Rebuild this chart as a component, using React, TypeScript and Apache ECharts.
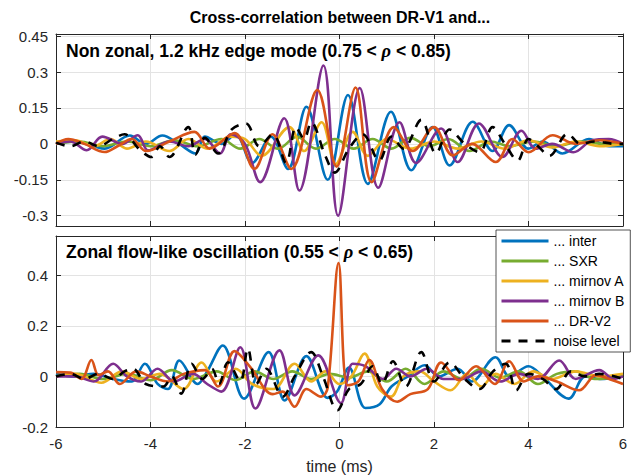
import React, { useEffect, useRef } from 'react';
import * as echarts from 'echarts';

// ---------- data ----------
const xTicks = [-6, -4, -2, 0, 2, 4, 6];
const topYTicks = [-0.3, -0.15, 0, 0.15, 0.3, 0.45];
const botYTicks = [-0.2, 0, 0.2, 0.4];
const seriesNames = ['... inter', '... SXR', '... mirnov A', '... mirnov B', '... DR-V2', 'noise level'];
const seriesColors = ['#0072BD', '#77AC30', '#EDB120', '#7E2F8E', '#D95319', '#000000'];

const titleText = 'Cross-correlation between DR-V1 and...';
const topNote = ['Non zonal, 1.2 kHz edge mode (0.75 < ', 'ρ', ' < 0.85)'];
const botNote = ['Zonal flow-like oscillation (0.55 < ', 'ρ', ' < 0.65)'];
const xLabel = 'time (ms)';

// Top panel: non zonal edge mode
const topInter = [[-6,0],[-5.6,0.01],[-5.2,-0.01],[-4.97,-0.02],[-4.44,0.035],[-4.1,0.0],[-3.75,0.035],[-3.4,0.0],[-3.05,-0.04],[-2.85,0.03],[-2.5,0.0],[-2.2,0.04],[-1.85,-0.08],[-1.45,0.03],[-1.09,-0.105],[-0.7,0.155],[-0.25,-0.15],[0.18,0.204],[0.6,-0.167],[1.09,0.134],[1.52,-0.11],[1.97,0.07],[2.33,-0.09],[2.82,0.092],[3.24,-0.03],[3.59,0.078],[4.0,-0.02],[4.3,0.01],[4.72,-0.04],[5.28,0.02],[5.71,-0.01],[6,-0.01]];
const topSXR = [[-6,0],[-5.5,0.01],[-5,-0.01],[-4.5,0.01],[-4,-0.01],[-3.5,0.015],[-3,-0.01],[-2.5,0.02],[-2.1,-0.02],[-1.7,0.02],[-1.3,-0.02],[-0.9,0.03],[-0.5,-0.02],[-0.1,0.02],[0.3,-0.02],[0.7,0.02],[1.1,-0.02],[1.5,0.025],[1.9,-0.01],[2.3,0.02],[2.75,-0.03],[3.2,0.01],[3.6,-0.01],[4.1,0.01],[4.6,-0.01],[5.1,0.01],[5.6,0],[6,0]];
const topMirnovA = [[-6,0.01],[-5.6,0.015],[-5.2,-0.01],[-4.85,0.02],[-4.5,-0.02],[-4.1,0.01],[-3.6,-0.03],[-3.2,0.02],[-2.8,-0.02],[-2.3,0.03],[-2.0,0.02],[-1.65,-0.05],[-1.06,0.07],[-0.75,-0.03],[-0.38,0.09],[-0.08,-0.085],[0.28,0.05],[0.6,-0.05],[1.0,0.02],[1.5,-0.02],[2.0,0.01],[2.5,-0.02],[3.0,0.01],[3.5,-0.02],[4.0,0.015],[4.5,-0.015],[5.0,0.01],[5.5,-0.01],[6,0.0]];
const topMirnovB = [[-6,0],[-5.7,0.01],[-5.35,-0.027],[-5.02,0.03],[-4.6,0.0],[-4.27,0.036],[-4.05,-0.027],[-3.6,0.01],[-3.2,-0.01],[-2.85,0.02],[-2.53,-0.04],[-2.3,0.04],[-2.0,0.0],[-1.68,-0.16],[-1.17,0.107],[-0.85,-0.195],[-0.34,0.327],[-0.03,-0.3],[0.43,0.233],[0.82,-0.183],[1.27,0.09],[1.62,-0.08],[2.15,0.064],[2.5,-0.076],[2.95,0.085],[3.45,-0.055],[3.85,0.055],[4.15,-0.02],[4.5,0.0],[4.95,-0.035],[5.35,0.015],[5.7,0.02],[6,0.0]];
const topDRV2 = [[-6,0],[-5.74,0.02],[-5.4,0.0],[-4.97,-0.034],[-4.7,-0.01],[-4.4,0.02],[-4.09,-0.03],[-3.6,0.01],[-3.07,0.05],[-2.75,-0.02],[-2.22,0.045],[-1.8,-0.104],[-1.42,0.04],[-1.02,-0.105],[-0.47,0.225],[-0.06,-0.095],[0.34,0.235],[0.68,-0.16],[1.15,0.07],[1.55,-0.03],[2.0,0.07],[2.4,-0.048],[2.8,0.0],[3.31,-0.076],[3.66,0.02],[4.0,-0.035],[4.51,0.036],[5.0,0.0],[5.5,0.015],[6,0]];
const topNoise = [[-6,0.005],[-5.7,-0.01],[-5.4,0.01],[-5.1,-0.01],[-4.8,0.02],[-4.55,0.04],[-4.25,-0.02],[-3.98,-0.055],[-3.8,-0.01],[-3.6,-0.055],[-3.2,0.07],[-3.05,-0.045],[-2.85,0.025],[-2.57,-0.04],[-2.28,0.06],[-1.98,0.085],[-1.7,-0.01],[-1.41,0.04],[-1.13,-0.08],[-0.92,0.07],[-0.75,0.02],[-0.6,0.09],[-0.3,-0.05],[-0.1,-0.12],[0.2,-0.02],[0.49,0.04],[0.84,-0.07],[1.1,0.03],[1.35,-0.02],[1.73,0.1],[2.04,-0.04],[2.33,0.06],[2.65,0.0],[2.96,-0.035],[3.24,0.07],[3.5,0.0],[3.77,-0.07],[4.0,0.02],[4.2,-0.01],[4.44,-0.05],[4.83,0.042],[5.1,0.0],[5.4,0.01],[5.85,0.0],[6,0.0]];

// Bottom panel: zonal flow-like oscillation
const botInter = [[-6,0.01],[-5.6,0.0],[-5.2,0.01],[-4.8,-0.01],[-4.4,-0.02],[-4.12,0.05],[-3.85,-0.03],[-3.63,-0.05],[-3.39,0.063],[-3.0,-0.03],[-2.8,0.02],[-2.47,0.122],[-2.02,-0.088],[-1.5,0.096],[-1.16,-0.095],[-0.7,0.08],[-0.25,-0.085],[-0.05,-0.06],[0.2,0.035],[0.55,-0.125],[0.85,-0.11],[1.1,-0.04],[1.45,0.0],[1.8,0.044],[2.1,0.0],[2.5,0.03],[2.8,-0.02],[3.3,0.076],[3.6,0.0],[4.0,0.04],[4.3,0.0],[4.85,-0.088],[5.2,0.0],[5.5,-0.01],[6,0.0]];
const botSXR = [[-6,0.0],[-5.5,0.01],[-5,-0.01],[-4.5,0.01],[-4,-0.015],[-3.55,0.025],[-3.1,-0.01],[-2.6,0.02],[-2.2,-0.015],[-1.8,0.02],[-1.4,-0.01],[-1.0,0.02],[-0.6,-0.01],[-0.2,0.01],[0.2,-0.005],[0.6,0.02],[1.0,-0.02],[1.4,0.03],[1.8,-0.03],[2.2,0.02],[2.6,-0.01],[3.0,0.03],[3.4,-0.005],[3.8,0.02],[4.2,-0.03],[4.6,0.01],[5.0,0.02],[5.4,-0.01],[6,0.0]];
const botMirnovA = [[-6,0.0],[-5.6,0.01],[-5.04,-0.025],[-4.6,0.02],[-4.2,-0.01],[-3.8,0.01],[-3.3,-0.05],[-2.92,0.055],[-2.6,-0.02],[-2.2,0.03],[-1.85,-0.03],[-1.4,-0.05],[-0.95,0.05],[-0.6,-0.02],[-0.3,0.02],[0.0,-0.03],[0.25,0.0],[0.53,0.09],[0.8,-0.04],[1.09,-0.08],[1.35,0.0],[1.7,0.02],[2.0,-0.02],[2.35,-0.055],[2.7,0.01],[3.0,-0.04],[3.3,0.01],[3.7,-0.03],[4.1,0.02],[4.5,-0.01],[5.0,0.02],[5.5,0.0],[6,0.01]];
const botMirnovB = [[-6,0.0],[-5.6,0.0],[-5.2,-0.02],[-4.79,0.05],[-4.5,0.0],[-4.2,-0.02],[-3.85,0.03],[-3.5,-0.02],[-3.1,0.01],[-2.8,-0.03],[-2.5,-0.06],[-2.1,0.115],[-1.78,-0.127],[-1.27,0.103],[-0.95,-0.075],[-0.45,0.083],[0.03,-0.105],[0.28,0.05],[0.55,0.04],[0.92,-0.01],[1.2,0.03],[1.5,0.0],[1.85,0.03],[2.2,-0.01],[2.6,-0.01],[3.0,0.02],[3.4,-0.02],[3.8,0.01],[4.2,-0.01],[4.65,0.063],[5.0,-0.01],[5.5,0.025],[5.8,-0.01],[6,0.0]];
const botDRV2 = [[-6,0.017],[-5.7,0.015],[-5.46,-0.01],[-5.25,0.065],[-5.1,0.005],[-4.9,0.02],[-4.65,-0.03],[-4.3,0.02],[-4.0,0.0],[-3.63,-0.02],[-3.3,0.01],[-2.85,0.025],[-2.57,-0.04],[-2.22,0.1],[-1.9,0.04],[-1.41,-0.07],[-1.2,-0.06],[-0.95,-0.12],[-0.7,-0.05],[-0.39,-0.08],[-0.25,-0.045],[-0.02,0.448],[0.17,-0.035],[0.4,-0.02],[0.63,0.065],[0.9,-0.05],[1.22,-0.1],[1.5,-0.07],[1.87,-0.05],[2.15,0.055],[2.53,-0.015],[2.89,0.04],[3.29,-0.03],[3.59,0.06],[3.9,-0.02],[4.2,0.0],[4.6,-0.02],[5.07,-0.055],[5.43,0.005],[5.78,-0.015],[6,-0.03]];
const botNoise = [[-6,0.0],[-5.7,0.01],[-5.4,-0.01],[-5.1,0.01],[-4.8,-0.01],[-4.55,0.02],[-4.37,0.03],[-4.1,-0.03],[-3.73,-0.04],[-3.55,0.0],[-3.35,-0.068],[-3.13,0.05],[-2.9,-0.01],[-2.7,0.03],[-2.55,-0.03],[-2.36,0.056],[-2.1,-0.02],[-1.94,0.11],[-1.76,-0.03],[-1.55,0.03],[-1.2,-0.08],[-0.95,0.0],[-0.6,0.096],[-0.35,0.0],[-0.04,-0.134],[0.2,-0.05],[0.45,-0.03],[0.7,0.04],[0.9,-0.03],[1.13,0.06],[1.4,-0.04],[1.73,0.096],[2.0,-0.02],[2.33,0.055],[2.65,-0.01],[2.96,-0.05],[3.25,0.02],[3.52,0.05],[3.74,-0.055],[4.0,0.01],[4.3,-0.01],[4.58,-0.05],[4.9,0.02],[5.2,0.0],[5.5,0.01],[6,-0.01]];

const topData = [topInter, topSXR, topMirnovA, topMirnovB, topDRV2, topNoise];
const botData = [botInter, botSXR, botMirnovA, botMirnovB, botDRV2, botNoise];

const FONT = 'Liberation Sans, Arial, Helvetica, sans-serif';
const AX = '#262626';
const GRIDC = '#e3e3e3';

function makeX(gridIndex: number, pos: 'top' | 'bottom', labels: boolean, grid: boolean, name?: string) {
  return {
    type: 'value', gridIndex, position: pos, min: xTicks[0], max: xTicks[xTicks.length - 1], interval: 2,
    axisLine: { show: true, onZero: false, lineStyle: { color: AX, width: 1 } },
    axisTick: { show: true, inside: true, length: 5, lineStyle: { color: AX } },
    axisLabel: { show: labels, color: AX, fontSize: 15, fontFamily: FONT, margin: 9 },
    splitLine: { show: grid, lineStyle: { color: GRIDC, width: 1 } },
    name: name || '', nameLocation: 'middle', nameGap: 31,
    nameTextStyle: { color: AX, fontSize: 16, fontFamily: FONT },
  };
}
function makeY(gridIndex: number, pos: 'left' | 'right', min: number, max: number, ticks: number[], labels: boolean, grid: boolean) {
  return {
    type: 'value', gridIndex, position: pos, min, max,
    axisLine: { show: true, onZero: false, lineStyle: { color: AX, width: 1 } },
    axisTick: { show: true, inside: true, length: 5, customValues: ticks, lineStyle: { color: AX } },
    axisLabel: { show: labels, customValues: ticks, color: AX, fontSize: 15, fontFamily: FONT, margin: 8 },
    splitLine: { show: grid, lineStyle: { color: GRIDC, width: 1 } },
  };
}

export default function App() {
  const ref = useRef<HTMLDivElement>(null);
  useEffect(() => {
    if (!ref.current) return;
    const chart = echarts.init(ref.current, undefined, { renderer: 'svg' });
    const series: any[] = [];
    [topData, botData].forEach((panel, p) => {
      panel.forEach((d, i) => {
        const isNoise = i === 5;
        series.push({
          name: seriesNames[i], type: 'line', data: d,
          xAxisIndex: p * 2, yAxisIndex: p * 2,
          symbol: 'none', showSymbol: false, smooth: 0.35, clip: true,
          lineStyle: { color: seriesColors[i], width: 2.6, type: isNoise ? [9, 8] : 'solid' },
          itemStyle: { color: seriesColors[i] },
          z: 2 + i,
        });
      });
    });
    const noteRich = {
      b: { fontFamily: FONT, fontWeight: 'bold', fontSize: 17.5, fill: '#000' },
      i: { fontFamily: 'Liberation Serif, serif', fontStyle: 'italic', fontWeight: 'bold', fontSize: 18.5, fill: '#000' },
    };
    chart.setOption({
      animation: false,
      backgroundColor: '#fff',
      textStyle: { fontFamily: FONT },
      grid: [
        { left: 56, right: 13, top: 34, height: 192 },
        { left: 56, right: 13, top: 236, height: 191 },
      ],
      xAxis: [
        makeX(0, 'bottom', false, true),
        makeX(0, 'top', false, false),
        makeX(1, 'bottom', true, true, xLabel),
        makeX(1, 'top', false, false),
      ],
      yAxis: [
        makeY(0, 'left', -0.343, 0.4587, topYTicks, true, true),
        makeY(0, 'right', -0.343, 0.4587, topYTicks, false, false),
        makeY(1, 'left', -0.2, 0.555, botYTicks, true, true),
        makeY(1, 'right', -0.2, 0.555, botYTicks, false, false),
      ],
      legend: {
        data: seriesNames, orient: 'vertical', left: 496, top: 230,
        itemWidth: 47, itemHeight: 14, itemGap: 6,
        itemStyle: { color: 'rgba(0,0,0,0)', borderColor: 'rgba(0,0,0,0)', borderWidth: 0, opacity: 0 },
        lineStyle: { width: 3 },
        textStyle: { fontSize: 14, color: '#000', fontFamily: FONT },
        backgroundColor: '#fff', borderColor: AX, borderWidth: 0.8, borderRadius: 0,
        padding: [4, 6, 4, 4], selectedMode: false,
      },
      graphic: [
        { type: 'text', x: 340, y: 9, style: { text: titleText, font: `bold 16px ${FONT}`, fill: '#000', align: 'center', verticalAlign: 'top' }, z: 100 },
        { type: 'text', left: 66, top: 41, style: { text: `{b|${topNote[0]}}{i|${topNote[1]}}{b|${topNote[2]}}`, rich: noteRich }, z: 100 },
        { type: 'text', left: 66, top: 242, style: { text: `{b|${botNote[0]}}{i|${botNote[1]}}{b|${botNote[2]}}`, rich: noteRich }, z: 100 },
      ],
      series,
    });
    return () => chart.dispose();
  }, []);
  return <div ref={ref} style={{ width: 636, height: 476, position: 'absolute', left: 0, top: 0 }} />;
}
